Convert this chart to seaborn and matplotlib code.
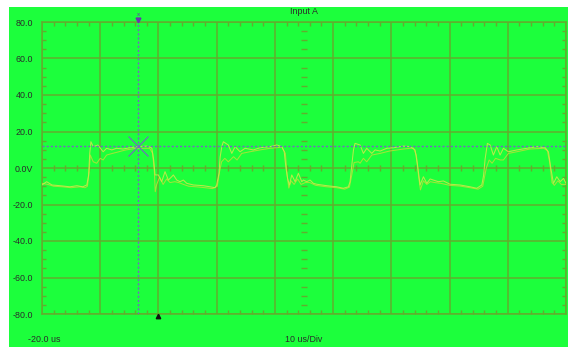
import numpy as np
import pandas as pd
import matplotlib
matplotlib.use("Agg")
import matplotlib.pyplot as plt
import seaborn as sns
from matplotlib.patches import Rectangle
from matplotlib.ticker import MultipleLocator
import matplotlib.transforms as mtransforms

# ---------------- data ----------------
trace_a_t = [-20.0, -19.2, -18.3, -16.9, -15.2, -14.0, -13.0, -12.3, -12.0, -11.8, -11.6, -11.2,
             -10.4, -9.5, -8.9, -8.0, -7.2, -6.1, -4.9, -3.7, -2.0, -1.15, -0.8, -0.59, -0.02,
             0.56, 1.13, 1.70, 2.28, 2.56, 3.14, 3.71, 4.28, 4.86, 6.0, 7.71, 8.86, 9.72, 10.0,
             10.4, 10.6, 10.9, 11.15, 12.0, 12.6, 13.16, 14.02, 14.88, 16.3, 17.45, 19.17, 20.32,
             21.18, 21.6, 21.9, 22.2, 22.49, 22.9, 23.47, 24.03, 24.62, 24.89, 25.47, 26.04,
             26.61, 27.19, 28.91, 30.63, 31.76, 32.62, 32.91, 33.26, 33.5, 33.77, 34.63, 35.2,
             35.78, 36.64, 37.21, 38.07, 39.22, 40.35, 42.07, 43.22, 44.08, 44.48, 44.94, 45.51,
             46.09, 46.66, 47.22, 48.08, 48.94, 50.09, 51.81, 53.53, 54.68, 55.54, 55.85, 56.11,
             56.5, 56.97, 57.53, 58.12, 58.68, 59.25, 60.11, 61.55, 63.27, 64.99, 66.42, 66.98,
             67.39, 67.84, 68.42, 69.0, 69.56, 70.0]
trace_a_v = [-9.3, -7.5, -9.3, -9.7, -10.3, -9.7, -10.3, -9.3, -4.0, 8.0, 14.4, 11.7,
             12.6, 8.9, 10.8, 9.9, 10.8, 10.4, 11.1, 11.7, 12.0, 11.1, 4.0, -3.8, -3.8,
             -7.5, -2.0, -6.6, -4.8, -3.8, -6.6, -7.5, -6.6, -8.4, -9.3, -9.7, -10.3, -10.8,
             -9.3, -3.0, 6.0, 12.0, 14.4, 12.6, 8.0, 11.7, 8.9, 10.8, 9.9, 11.1, 11.7, 12.6,
             11.7, 9.0, 0.0, -6.0, -9.3, -3.8, -7.5, -2.9, -7.5, -6.6, -7.5, -6.6,
             -8.4, -8.9, -9.7, -10.3, -11.1, -10.3, -7.5, 3.0, 10.0, 13.5, 12.6, 8.0,
             10.8, 8.0, 9.9, 9.3, 10.8, 11.1, 12.0, 11.7, 9.9, 2.0, -9.3, -4.8,
             -8.4, -6.0, -6.6, -7.5, -7.1, -8.9, -9.3, -10.3, -11.1, -9.3, -4.0, 5.0,
             13.5, 12.6, 7.1, 11.7, 7.1, 10.8, 8.9, 9.9, 10.8, 11.7, 11.1, 8.9,
             0.0, -8.4, -4.8, -7.5, -5.7, -8.4]

trace_b_t = [-20.0, -19.0, -18.0, -16.5, -15.0, -13.5, -12.6, -12.2, -11.9, -11.7, -11.2, -10.6,
             -10.0, -9.5, -8.9, -7.9, -6.8, -5.6, -3.7, -1.5, -1.0, -0.7, -0.55, -0.3, 0.2, 0.8,
             1.4, 2.0, 2.8, 3.5, 4.3, 5.2, 6.5, 8.0, 9.3, 10.1, 10.5, 10.84, 11.4, 12.0, 12.9,
             13.5, 14.3, 15.7, 17.45, 19.17, 21.2, 21.8, 22.1, 22.4, 22.8, 23.3, 23.9, 24.5,
             25.2, 26.0, 27.0, 28.9, 30.6, 32.0, 32.8, 33.2, 33.6, 34.34, 34.63, 35.2, 35.78,
             36.64, 38.07, 39.7, 42.07, 43.8, 44.3, 44.7, 45.0, 45.5, 46.1, 46.7, 47.5, 48.5,
             50.0, 51.8, 53.5, 54.9, 55.7, 56.0, 56.3, 56.8, 57.3, 57.9, 58.7, 59.25, 60.11,
             61.55, 63.8, 66.2, 66.8, 67.2, 67.6, 68.0, 68.6, 69.2, 70.0]
trace_b_v = [-8.4, -9.0, -10.0, -10.3, -10.8, -10.3, -10.8, -10.0, -2.0, 7.1, 3.4, 2.6,
             5.3, 4.4, 7.1, 8.0, 8.9, 9.9, 10.8, 10.8, 8.0, -2.0, -13.0, -9.0, -5.0, -9.0,
             -6.0, -8.0, -7.5, -8.0, -9.0, -10.0, -10.3, -10.8, -11.3, -10.0, -2.0, 3.4, 5.3, 3.4, 6.2,
             4.4, 8.0, 8.9, 9.9, 10.8, 11.4, 8.0, -4.0, -11.0, -7.0, -9.0, -6.0, -9.0,
             -8.0, -8.0, -9.5, -10.3, -10.8, -11.6, -10.5, -4.0, 3.0, 3.4, 2.6, 5.3, 3.4,
             7.1, 8.0, 9.3, 10.4, 11.0, 7.0, -5.0, -12.0, -7.0, -9.0, -7.5, -8.0, -8.4,
             -9.5, -9.9, -10.8, -11.6, -10.0, -5.0, -0.2, 4.4, 2.6, 5.3, 4.4, 4.4, 8.0,
             8.9, 10.4, 10.8, 9.5, 3.0, -8.0, -9.5, -7.0, -9.0, -9.0]

y_ticks = [-80, -60, -40, -20, 0, 20, 40, 60, 80]
y_tick_labels = ["-80.0", "-60.0", "-40.0", "-20.0", "0.0V", "20.0", "40.0", "60.0", "80.0"]
x_start, x_end, x_div = -20.0, 70.0, 10.0
cursor_t = -3.46
cursor_v = 12.1
trigger_t = 0.0
center_t = 25.0
title_text = "Input A"
left_label = "-20.0 us"
div_label = "10 us/Div"

# ---------------- style ----------------
GREEN = "#1cff3c"
GRID = "#62ad2e"
TEXT = "#2b2b2b"
CURSOR = "#7466c4"
plt.rcParams["font.family"] = ["Liberation Sans", "DejaVu Sans"]

W, H = 568, 347
fig = plt.figure(figsize=(W / 100, H / 100), dpi=100)
fig.patch.set_facecolor("white")
fig.add_artist(Rectangle((9 / W, 0), 1 - 9 / W, 340 / H, transform=fig.transFigure,
                         facecolor=GREEN, edgecolor="none", zorder=0))

ax = fig.add_axes([42 / W, 33 / H, 524 / W, 292 / H])
ax.set_facecolor(GREEN)
ax.set_xlim(x_start, x_end)
ax.set_ylim(-80, 80)

for s in ax.spines.values():
    s.set_color(GRID)
    s.set_linewidth(1.1)

ax.set_xticks(np.arange(x_start, x_end + 0.1, x_div))
ax.set_xticklabels([])
ax.xaxis.set_minor_locator(MultipleLocator(2))
ax.set_yticks(y_ticks)
ax.set_yticklabels(y_tick_labels)
ax.yaxis.set_minor_locator(MultipleLocator(5))
ax.tick_params(axis="both", which="major", length=0)
ax.tick_params(axis="y", which="major", pad=6.5, labelsize=6.4, labelcolor=TEXT)
ax.tick_params(axis="x", which="minor", direction="in", length=3, width=1.0,
               color=GRID, top=True, bottom=True)
ax.tick_params(axis="y", which="minor", direction="in", length=3, width=1.0,
               color=GRID, left=True, right=True)
ax.grid(True, which="major", color=GRID, linewidth=1.1)
ax.set_axisbelow(True)

# centre cross ticks
cx_minor = [t for t in np.arange(x_start, x_end + 0.1, 2) if abs(t % 10) > 1e-6]
cy_minor = [v for v in np.arange(-80, 80.1, 5) if abs(v % 20) > 1e-6]
ax.vlines(cx_minor, -1.7, 1.7, color=GRID, linewidth=1.0, zorder=1)
ax.hlines(cy_minor, center_t - 0.5, center_t + 0.6, color=GRID, linewidth=1.0, zorder=1)

# traces
df_a = pd.DataFrame({"t": trace_a_t, "v": trace_a_v})
df_b = pd.DataFrame({"t": trace_b_t, "v": trace_b_v})
sns.lineplot(data=df_b, x="t", y="v", ax=ax, sort=False, estimator=None,
             color="#b8e036", linewidth=0.75, alpha=0.85, zorder=3)
sns.lineplot(data=df_a, x="t", y="v", ax=ax, sort=False, estimator=None,
             color="#d2e84a", linewidth=0.75, alpha=0.85, zorder=4)
ax.set_xlabel("")
ax.set_ylabel("")

# cursors
ax.axvline(cursor_t, color=CURSOR, linewidth=1.0, linestyle=(0, (1.5, 1.5)), zorder=5)
ax.axhline(cursor_v, color=CURSOR, linewidth=1.0, linestyle=(0, (1.5, 1.5)), zorder=5)
ax.plot([cursor_t], [cursor_v], marker="x", markersize=14, markeredgewidth=0.8,
        color=CURSOR, zorder=6)

tr = mtransforms.blended_transform_factory(ax.transData, ax.transAxes)
ax.plot([cursor_t], [1 + 2.5 / 292], marker="v", markersize=3.5, color="#6a34b0",
        transform=tr, clip_on=False, zorder=7)
ax.text(cursor_t, 1 + 7.5 / 292, "x", transform=tr, fontsize=4.5, color="#6a34b0",
        ha="center", va="center", clip_on=False)
ax.plot([trigger_t], [-1.5 / 292], marker="^", markersize=3.2, color="#101010",
        transform=tr, clip_on=False, zorder=7)

# labels
fig.text(304 / W, 1 - 12 / H, title_text, ha="center", va="center", fontsize=6.4, color=TEXT)
fig.text(28 / W, 1 - 340 / H, left_label, ha="left", va="center", fontsize=6.4, color=TEXT)
fig.text(304 / W, 1 - 340 / H, div_label, ha="center", va="center", fontsize=6.4, color=TEXT)

fig.savefig("out.png", dpi=100, facecolor=fig.get_facecolor())
